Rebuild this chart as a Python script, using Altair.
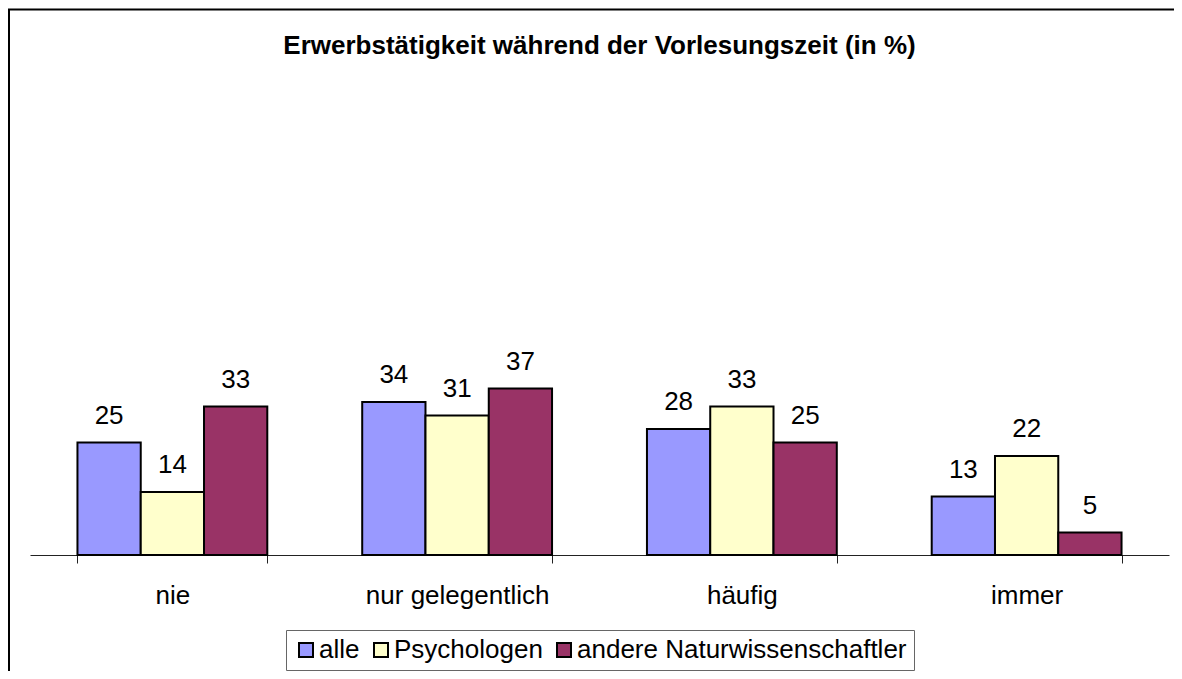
import altair as alt
import pandas as pd

categories = ["nie", "nur gelegentlich", "häufig", "immer"]
series = ["alle", "Psychologen", "andere Naturwissenschaftler"]
alle = [25, 34, 28, 13]
psychologen = [14, 31, 33, 22]
andere = [33, 37, 25, 5]
colors = ["#9999FF", "#FFFFCC", "#993366"]

rows = []
for vals, s in zip([alle, psychologen, andere], series):
    for c, v in zip(categories, vals):
        rows.append({"Kategorie": c, "Gruppe": s, "Wert": v})
df = pd.DataFrame(rows)

FONT = "Liberation Sans"

x = alt.X("Kategorie:N", sort=categories, title=None,
          scale=alt.Scale(paddingInner=1/3, paddingOuter=1/6),
          axis=alt.Axis(labelAngle=0, labelFontSize=26, labelFont=FONT, labelColor="black",
                        labelLimit=1000,
                        tickBand="extent", tickSize=8, tickColor="#222222",
                        domainColor="#222222", labelPadding=19, grid=False))
xo = alt.XOffset("Gruppe:N", sort=series)
y = alt.Y("Wert:Q", scale=alt.Scale(domain=[0, 100]), axis=None)

base = alt.Chart(df)
bars = base.mark_bar(stroke="black", strokeWidth=2).encode(
    x=x, xOffset=xo, y=y,
    color=alt.Color("Gruppe:N", sort=series,
                    scale=alt.Scale(domain=series, range=colors),
                    legend=alt.Legend(title=None, orient="none", direction="horizontal",
                                      legendX=256, legendY=525,
                                      symbolType="square", symbolSize=196,
                                      symbolStrokeColor="black", symbolStrokeWidth=2,
                                      labelFontSize=26, labelFont=FONT, labelColor="black",
                                      labelLimit=1000,
                                      strokeColor="#666666", padding=7,
                                      columnPadding=8, labelOffset=0)),
)
labels = base.mark_text(baseline="alphabetic", dy=-19, fontSize=26, font=FONT, color="black").encode(
    x=x, xOffset=xo, y=y, text="Wert:Q"
)
frame = alt.Chart(pd.DataFrame({"a": [0]})).mark_rect(
    fillOpacity=0, stroke="black", strokeWidth=2
).encode(x=alt.value(-21), x2=alt.value(1300), y=alt.value(-95.5), y2=alt.value(900))

chart = alt.layer(frame, bars, labels).properties(
    width=1139, height=450,
    title=alt.TitleParams("Erwerbstätigkeit während der Vorlesungszeit (in %)",
                          fontSize=26, font=FONT, fontWeight="bold", color="black",
                          anchor="middle", frame="group", baseline="alphabetic",
                          offset=-71.5),
    autosize=alt.AutoSizeParams(type="none"),
    padding={"left": 22, "top": 97, "right": 5, "bottom": 116},
).configure_view(stroke=None)

chart.save("out.html", embed_options={"renderer": "svg", "actions": False})
